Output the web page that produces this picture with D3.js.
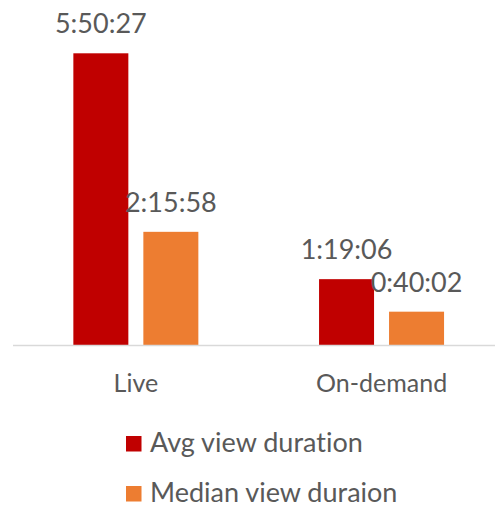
<!DOCTYPE html>
<html><head><meta charset="utf-8">
<script src="https://cdn.jsdelivr.net/npm/d3@7"></script>
<style>body{margin:0;background:#fff;} svg{display:block;} text{font-variant-ligatures:none;font-feature-settings:"liga" 0;}</style>
</head><body>
<script>
const categories = ["Live", "On-demand"];
const seriesNames = ["Avg view duration", "Median view duraion"];
const avgLabels = ["5:50:27", "1:19:06"];
const medianLabels = ["2:15:58", "0:40:02"];
const colors = ["#C00000", "#ED7D31"];

function toSec(s){const p=s.split(":").map(Number);return p[0]*3600+p[1]*60+p[2];}
const avgValues = avgLabels.map(toSec);
const medianValues = medianLabels.map(toSec);
const labelSets = [avgLabels, medianLabels];
const valueSets = [avgValues, medianValues];

const W = 495, H = 508;
const font = "Lato, 'Open Sans', sans-serif";
const svg = d3.select("body").append("svg").attr("width", W).attr("height", H);

const baseY = 345;
const y = d3.scaleLinear().domain([0, d3.max(avgValues)]).range([baseY, 53.3]);
const x0 = d3.scaleBand().domain(categories).range([13, 504.4]);
const x1 = d3.scaleBand().domain(seriesNames).range([0, 125]).paddingInner(0.2143);

const g = svg.append("g");
categories.forEach((c, i) => {
  const cx = x0(c) + x0.bandwidth()/2 - 62.5;
  seriesNames.forEach((s, j) => {
    const v = valueSets[j][i];
    const bx = cx + x1(s);
    g.append("rect").attr("x", bx).attr("y", y(v)).attr("width", x1.bandwidth())
      .attr("height", baseY - y(v)).attr("fill", colors[j]);
    g.append("text").attr("x", bx + x1.bandwidth()/2).attr("y", y(v) - 20)
      .attr("text-anchor", "middle").attr("font-family", font).attr("font-size", 27)
      .attr("fill", "#595959").text(labelSets[j][i]);
  });
});

// axis
svg.append("line").attr("x1", 13).attr("x2", W).attr("y1", baseY + 0.5).attr("y2", baseY + 0.5)
  .attr("stroke", "#d9d9d9").attr("stroke-width", 1.5);
const xAxis = d3.axisBottom(x0).tickSize(0).tickPadding(0);
const ax = svg.append("g").attr("transform", `translate(0,${baseY})`).call(xAxis);
ax.select(".domain").remove();
ax.selectAll("text").attr("font-family", font).attr("font-size", 25).attr("fill", "#595959")
  .attr("dy", null).attr("y", 47);

// legend
const lg = svg.append("g");
seriesNames.forEach((s, j) => {
  const ly = 451.5 + j * 50;
  lg.append("rect").attr("x", 126).attr("y", ly - 15.5).attr("width", 15.5).attr("height", 15.5).attr("fill", colors[j]);
  lg.append("text").attr("x", 150).attr("y", ly).attr("font-family", font).attr("font-size", 27)
    .attr("fill", "#595959").text(s);
});
</script>
</body></html>
